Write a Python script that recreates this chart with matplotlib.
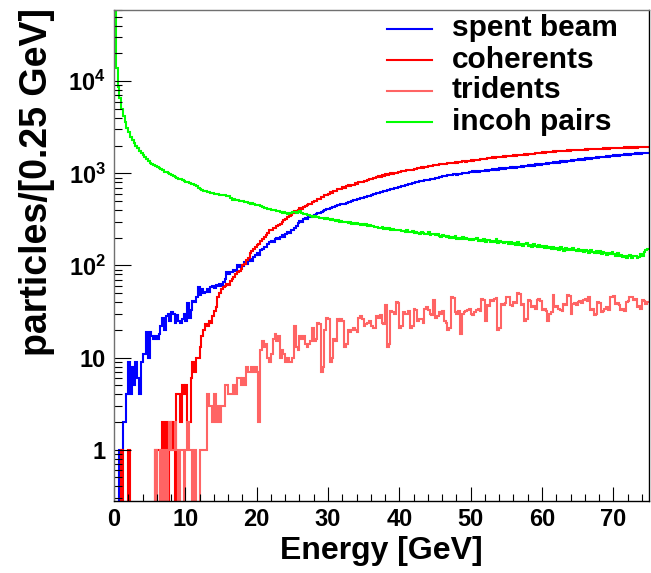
import numpy as np
import matplotlib
matplotlib.use("Agg")
import matplotlib.pyplot as plt
from matplotlib.ticker import FixedLocator, FuncFormatter, NullFormatter

plt.rcParams.update({
    "font.family": "Liberation Sans",
    "font.weight": "bold",
    "mathtext.fontset": "custom",
    "mathtext.rm": "Liberation Sans:bold",
    "mathtext.bf": "Liberation Sans:bold",
    "mathtext.it": "Liberation Sans:bold",
    "mathtext.default": "bf",
})

# 0.25 GeV bins, 0 - 75 GeV
bin_edges = np.linspace(0.0, 75.0, 301)

spent_beam = [
    0, 0, 0, 1, 1, 2, 2, 4, 9, 4, 8, 5, 9, 6, 4, 9, 11, 11, 19, 10,
    19, 17, 16, 17, 16, 18, 22, 27, 20, 28, 30, 25, 31, 30, 24, 29, 25, 24, 26, 30,
    25, 39, 27, 33, 41, 40, 45, 58, 48, 56, 50, 51, 55, 52, 58, 60, 57, 62, 60, 63,
    60, 66, 72, 84, 80, 86, 84, 90, 88, 100, 96, 102, 98, 108, 104, 112, 118, 112, 124, 130,
    138, 130, 148, 152, 160, 158, 172, 178, 185, 180, 192, 200, 196, 205, 212, 206, 220, 228, 224, 240,
    245, 256, 270, 290, 305, 298, 318, 325, 320, 336, 340, 348, 352, 362, 370, 368, 385, 392, 396, 410,
    414, 424, 430, 426, 442, 448, 452, 462, 470, 468, 482, 492, 486, 502, 508, 514, 522, 530, 534, 546,
    550, 560, 564, 574, 580, 590, 590, 606, 610, 622, 626, 638, 644, 652, 662, 668, 680, 690, 698, 706,
    714, 724, 734, 740, 754, 758, 774, 780, 788, 804, 804, 816, 828, 830, 842, 852, 856, 868, 876, 878,
    894, 900, 908, 920, 926, 936, 944, 952, 960, 970, 974, 982, 970, 986, 988, 998, 1000, 1012, 1014, 1026,
    1030, 1052, 1024, 1060, 1041, 1072, 1050, 1066, 1090, 1064, 1098, 1080, 1106, 1088, 1120, 1096, 1130, 1108, 1138, 1122,
    1146, 1130, 1160, 1144, 1172, 1150, 1184, 1166, 1196, 1178, 1210, 1188, 1222, 1202, 1236, 1214, 1250, 1226, 1262, 1240,
    1276, 1254, 1290, 1266, 1304, 1280, 1318, 1296, 1334, 1310, 1346, 1324, 1360, 1338, 1378, 1352, 1392, 1366, 1408, 1384,
    1420, 1396, 1434, 1410, 1450, 1426, 1462, 1440, 1478, 1454, 1494, 1470, 1506, 1486, 1522, 1500, 1536, 1514, 1552, 1528,
    1566, 1542, 1580, 1556, 1596, 1572, 1608, 1588, 1622, 1598, 1636, 1612, 1648, 1624, 1660, 1636, 1668, 1646, 1664, 1652,
]

coherents = [
    0, 0, 0, 0, 1, 0, 0, 0, 1, 0, 0, 0, 0, 0, 0, 0, 0, 0, 0, 0,
    0, 0, 0, 1, 1, 1, 0, 2, 1, 2, 0, 1, 2, 1, 0, 4, 4, 2, 5, 4,
    5, 2, 2, 6, 9, 7, 10, 10, 13, 17, 20, 23, 22, 25, 24, 28, 32, 35, 45, 50,
    55, 58, 60, 63, 62, 68, 72, 75, 80, 85, 88, 92, 100, 105, 115, 120, 135, 142, 150, 158,
    165, 172, 186, 192, 206, 214, 226, 240, 244, 254, 258, 270, 275, 284, 298, 310, 322, 334, 344, 356,
    375, 392, 388, 404, 418, 412, 436, 441, 452, 470, 465, 488, 507, 499, 526, 530, 552, 549, 578, 588,
    604, 626, 619, 646, 640, 668, 682, 671, 704, 698, 722, 740, 731, 755, 748, 779, 771, 800, 812, 805,
    835, 826, 852, 870, 861, 892, 884, 915, 930, 918, 950, 944, 972, 960, 990, 1002, 988, 1020, 1012, 1035,
    1030, 1058, 1049, 1072, 1090, 1078, 1100, 1096, 1125, 1110, 1140, 1132, 1158, 1150, 1176, 1168, 1195, 1210, 1198, 1230,
    1240, 1228, 1254, 1262, 1248, 1276, 1270, 1290, 1280, 1302, 1296, 1320, 1310, 1336, 1330, 1348, 1355, 1340, 1368, 1375,
    1385, 1372, 1400, 1412, 1398, 1428, 1420, 1448, 1436, 1464, 1458, 1470, 1486, 1478, 1500, 1492, 1515, 1508, 1530, 1522,
    1540, 1528, 1555, 1548, 1570, 1560, 1586, 1575, 1598, 1590, 1612, 1600, 1628, 1618, 1640, 1635, 1655, 1648, 1672, 1665,
    1685, 1676, 1700, 1692, 1715, 1705, 1730, 1720, 1745, 1735, 1758, 1748, 1768, 1755, 1776, 1765, 1786, 1772, 1795, 1780,
    1800, 1788, 1812, 1805, 1822, 1810, 1830, 1818, 1840, 1828, 1850, 1836, 1858, 1846, 1866, 1852, 1874, 1860, 1880, 1868,
    1885, 1872, 1895, 1880, 1900, 1888, 1908, 1892, 1912, 1898, 1916, 1902, 1920, 1905, 1918, 1908, 1922, 1910, 1918, 1912,
]

tridents = [
    0, 0, 0, 0, 0, 0, 0, 0, 0, 0, 0, 0, 0, 0, 0, 0, 0, 0, 0, 0,
    0, 0, 0, 1, 0, 0, 1, 0, 1, 0, 1, 2, 1, 1, 2, 1, 0, 1, 1, 0,
    1, 2, 1, 1, 0, 1, 0, 0, 1, 1, 1, 1, 4, 3, 3, 2, 4, 2, 3, 2,
    3, 3, 5, 5, 4, 4, 4, 5, 4, 6, 6, 5, 6, 5, 8, 7, 7, 8, 7, 8,
    7, 2, 12, 15, 13, 14, 10, 9, 11, 16, 18, 15, 17, 10, 12, 11, 9, 10, 9, 9,
    10, 22, 13, 12, 17, 16, 17, 14, 13, 14, 15, 21, 15, 16, 24, 23, 7, 8, 20, 27,
    26, 9, 10, 16, 15, 26, 25, 26, 25, 13, 14, 20, 19, 20, 21, 20, 19, 27, 28, 26,
    22, 23, 24, 25, 22, 21, 21, 28, 27, 29, 24, 23, 37, 13, 14, 32, 31, 30, 40, 39,
    21, 22, 31, 30, 30, 32, 21, 22, 34, 33, 25, 26, 26, 24, 34, 35, 33, 30, 29, 42,
    27, 28, 31, 30, 32, 25, 24, 20, 21, 45, 44, 31, 30, 32, 18, 30, 31, 32, 33, 34,
    30, 29, 31, 33, 34, 32, 43, 42, 25, 37, 36, 42, 41, 43, 44, 20, 21, 38, 37, 39,
    46, 45, 37, 36, 40, 39, 50, 49, 37, 38, 25, 26, 42, 41, 35, 36, 34, 42, 43, 41,
    33, 34, 32, 25, 30, 31, 48, 35, 36, 34, 33, 32, 38, 37, 48, 47, 30, 38, 39, 37,
    40, 41, 39, 42, 43, 41, 46, 33, 34, 29, 30, 40, 39, 31, 32, 34, 35, 33, 46, 45,
    47, 38, 39, 37, 33, 34, 32, 40, 41, 46, 45, 42, 43, 35, 36, 34, 42, 41, 38, 40,
]

incoh_pairs = [
    70000, 14000, 8700, 6600, 5000, 4200, 3600, 3100, 2800, 2500, 2300, 2150, 1980, 1870, 1760, 1660, 1570, 1500, 1420, 1350,
    1300, 1270, 1230, 1200, 1170, 1150, 1120, 1080, 1040, 1030, 1000, 990, 960, 930, 920, 900, 870, 860, 840, 820,
    810, 800, 790, 770, 760, 740, 730, 700, 670, 660, 650, 645, 630, 620, 610, 615, 600, 590, 595, 580,
    585, 575, 580, 570, 565, 540, 520, 525, 515, 510, 505, 495, 500, 490, 485, 480, 470, 475, 465, 455,
    450, 455, 440, 430, 425, 420, 415, 410, 405, 400, 400, 395, 390, 385, 375, 380, 370, 365, 375, 370,
    380, 385, 375, 380, 390, 370, 365, 360, 355, 350, 345, 340, 345, 335, 340, 330, 325, 330, 320, 325,
    320, 315, 318, 310, 305, 312, 300, 305, 298, 300, 295, 290, 298, 285, 290, 280, 288, 285, 278, 282,
    275, 280, 270, 272, 265, 268, 260, 262, 258, 255, 260, 250, 252, 248, 255, 245, 248, 240, 245, 242,
    240, 235, 238, 232, 240, 230, 228, 234, 225, 230, 226, 220, 232, 225, 218, 222, 228, 215, 220, 218,
    212, 218, 210, 205, 214, 208, 202, 210, 200, 205, 198, 208, 196, 200, 194, 204, 192, 198, 195, 190,
    196, 188, 192, 200, 186, 190, 184, 194, 182, 188, 190, 180, 186, 178, 192, 176, 184, 180, 174, 182,
    178, 172, 180, 170, 175, 166, 178, 168, 172, 164, 170, 176, 162, 168, 160, 170, 164, 158, 166, 160,
    162, 156, 164, 154, 158, 150, 160, 152, 156, 148, 158, 150, 144, 154, 148, 152, 146, 156, 148, 142,
    150, 144, 146, 140, 148, 142, 138, 146, 140, 136, 144, 138, 142, 134, 140, 136, 130, 138, 134, 140,
    132, 128, 136, 126, 130, 124, 128, 120, 126, 130, 122, 126, 128, 120, 124, 132, 126, 140, 146, 150,
]

series = [
    ("spent beam",  spent_beam,  "#0000ff"),
    ("coherents",   coherents,   "#ff0000"),
    ("tridents",    tridents,    "#ff6464"),
    ("incoh pairs", incoh_pairs, "#00ff00"),
]

W, H = 651, 573
fig = plt.figure(figsize=(W / 100, H / 100), dpi=100)
ax = fig.add_axes([114 / W, 1 - 500.7 / H, 535 / W, 491.2 / H])
ax.set_yscale("log")

# empty bins are pushed below the frame so the outline drops to the bottom
for name, vals, col in series:
    v = np.clip(np.asarray(vals, dtype=float), 0.05, None)
    ax.stairs(v, bin_edges, baseline=None, color=col, lw=1.5, label=name)

ax.set_xlim(0, 75)
ax.set_ylim(0.28, 6.0e4)

# ticks inside, ROOT style
ax.xaxis.set_major_locator(FixedLocator(np.arange(0, 71, 10)))
ax.xaxis.set_minor_locator(FixedLocator(np.arange(0, 75.1, 2)))
ax.tick_params(axis="x", which="major", direction="in", length=10, width=0.8,
               labelsize=17, pad=5, top=False)
ax.tick_params(axis="x", which="minor", direction="in", length=5, width=0.8, top=False)

decades = [1, 10, 100, 1000, 10000]
minors = [m * 10.0 ** e for e in range(-1, 5) for m in range(2, 10)]
ax.yaxis.set_major_locator(FixedLocator(decades))
ax.yaxis.set_minor_locator(FixedLocator(minors))
ax.yaxis.set_minor_formatter(NullFormatter())


def ylab(v, pos):
    if v < 5:
        return "1"
    if v < 50:
        return "10"
    return r"$10^{%d}$" % int(round(np.log10(v)))


ax.yaxis.set_major_formatter(FuncFormatter(ylab))
ax.tick_params(axis="y", which="major", direction="in", length=12, width=0.8,
               labelsize=17, pad=6, right=False)
ax.tick_params(axis="y", which="minor", direction="in", length=5.5, width=0.8, right=False)

for s in ("left", "top"):
    ax.spines[s].set_color("#707070")
for s in ax.spines.values():
    s.set_linewidth(1.0)

ax.set_xlabel("Energy [GeV]", fontsize=23, fontweight="bold")
ax.xaxis.set_label_coords(0.5, -0.071)
ax.set_ylabel("particles/[0.25 GeV]", fontsize=27, fontweight="bold", loc="top")
ax.yaxis.set_label_coords(-0.11, 1.003)

# legend drawn as short lines + labels in the top right corner
row_y = [29, 60, 91, 122]
for (name, vals, col), yp in zip(series, row_y):
    ya = 1 - (yp - 9.5) / 491.2
    ax.plot([0.510, 0.594], [ya, ya], color=col, lw=1.5, transform=ax.transAxes,
            clip_on=False)
    ax.text(0.632, ya - 7.5 / 491.2, name, transform=ax.transAxes, fontsize=21.5,
            fontweight="bold", va="baseline", ha="left")

fig.savefig("out.png", dpi=100)
